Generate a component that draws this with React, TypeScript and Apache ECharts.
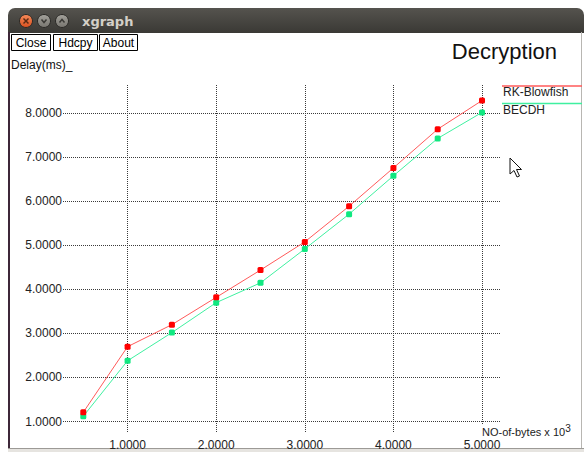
import React, { useEffect, useRef } from "react";
import * as echarts from "echarts";

const xValues = [0.5, 1, 1.5, 2, 2.5, 3, 3.5, 4, 4.5, 5];
const rkBlowfish = [1.21, 2.7, 3.2, 3.82, 4.44, 5.08, 5.89, 6.76, 7.64, 8.29];
const becdh = [1.12, 2.38, 3.02, 3.7, 4.15, 4.92, 5.71, 6.58, 7.43, 8.02];
const xTicks = [1, 2, 3, 4, 5];
const yTicks = [1, 2, 3, 4, 5, 6, 7, 8];
const seriesNames = ["RK-Blowfish", "BECDH"];
const buttonLabels = ["Close", "Hdcpy", "About"];

const FONT = '"Liberation Sans", Arial, sans-serif';
const RED_LINE = "#ff5a5a";
const RED_PT = "#ff0000";
const GREEN_LINE = "#3ff0a0";
const GREEN_PT = "#10e880";

export default function App() {
  const ref = useRef<HTMLDivElement>(null);
  useEffect(() => {
    document.body.style.margin = "0";
    const chart = echarts.init(ref.current!, null, { renderer: "svg" });
    const gridLine = { show: true, lineStyle: { color: "#3a3a3a", width: 1, type: [1, 1] as any } };
    const buttonX = [11, 53, 99];
    const buttonW = [39, 44, 38];
    const graphics: any[] = [
      // title bar
      {
        type: "rect",
        shape: { x: 8, y: 8, width: 576, height: 25, r: [7, 7, 0, 0] },
        style: {
          fill: new echarts.graphic.LinearGradient(0, 0, 0, 1, [
            { offset: 0, color: "#55534e" },
            { offset: 1, color: "#3a3935" },
          ]),
        },
      },
      // window borders
      { type: "rect", shape: { x: 8, y: 32, width: 2, height: 416 }, style: { fill: "#3d2739" } },
      { type: "rect", shape: { x: 581, y: 32, width: 1, height: 416 }, style: { fill: "#b8b6b2" } },
      { type: "rect", shape: { x: 8, y: 448, width: 576, height: 4 }, style: { fill: "#e6e4e0" } },
      { type: "rect", shape: { x: 8, y: 448, width: 576, height: 1 }, style: { fill: "#9c9a96" } },
      // window buttons
      {
        type: "circle",
        shape: { cx: 26, cy: 21, r: 6.5 },
        style: {
          fill: new echarts.graphic.LinearGradient(0, 0, 0, 1, [
            { offset: 0, color: "#f58a5a" },
            { offset: 1, color: "#d9501f" },
          ]),
          stroke: "#2a2926",
        },
      },
      {
        type: "circle",
        shape: { cx: 44, cy: 21, r: 6.5 },
        style: {
          fill: new echarts.graphic.LinearGradient(0, 0, 0, 1, [
            { offset: 0, color: "#a3a19b" },
            { offset: 1, color: "#77756f" },
          ]),
          stroke: "#2a2926",
        },
      },
      {
        type: "circle",
        shape: { cx: 62, cy: 21, r: 6.5 },
        style: {
          fill: new echarts.graphic.LinearGradient(0, 0, 0, 1, [
            { offset: 0, color: "#a3a19b" },
            { offset: 1, color: "#77756f" },
          ]),
          stroke: "#2a2926",
        },
      },
      { type: "line", shape: { x1: 23.5, y1: 18.5, x2: 28.5, y2: 23.5 }, style: { stroke: "#5a2a14", lineWidth: 1.5 } },
      { type: "line", shape: { x1: 28.5, y1: 18.5, x2: 23.5, y2: 23.5 }, style: { stroke: "#5a2a14", lineWidth: 1.5 } },
      { type: "polyline", shape: { points: [[41.5, 19.5], [44, 22.5], [46.5, 19.5]] }, style: { stroke: "#3a3935", lineWidth: 1.5, fill: null } },
      { type: "polyline", shape: { points: [[59.5, 22.5], [62, 19.5], [64.5, 22.5]] }, style: { stroke: "#3a3935", lineWidth: 1.5, fill: null } },
      {
        type: "text",
        style: {
          text: "xgraph",
          x: 82,
          y: 21,
          font: 'bold 13px "DejaVu Sans", sans-serif',
          fill: "#d4d0c8",
          textVerticalAlign: "middle",
        },
      },
      // title
      {
        type: "text",
        style: {
          text: "Decryption",
          x: 557,
          y: 51,
          font: `22px ${FONT}`,
          fill: "#111",
          textAlign: "right",
          textVerticalAlign: "middle",
        },
      },
      {
        type: "text",
        style: { text: "Delay(ms)_", x: 11, y: 65, font: `12px ${FONT}`, fill: "#111", textVerticalAlign: "middle" },
      },
      // legend
      { type: "line", z: 10, shape: { x1: 502, y1: 86, x2: 582, y2: 86 }, style: { stroke: RED_LINE, lineWidth: 1.5 } },
      {
        type: "text",
        style: { text: seriesNames[0], x: 503, y: 92, font: `12px ${FONT}`, fill: "#222", textVerticalAlign: "middle" },
      },
      { type: "line", z: 10, shape: { x1: 502, y1: 103.5, x2: 582, y2: 103.5 }, style: { stroke: GREEN_LINE, lineWidth: 1.5 } },
      {
        type: "text",
        style: { text: seriesNames[1], x: 503, y: 110, font: `12px ${FONT}`, fill: "#222", textVerticalAlign: "middle" },
      },
      // x axis name with cleared background
      { type: "rect", z: 10, shape: { x: 482, y: 424, width: 96, height: 14 }, style: { fill: "#fff" } },
      {
        type: "text",
        z: 11,
        style: {
          text: "{a|NO-of-bytes x 10}{s|3}",
          x: 482,
          y: 430.5,
          fill: "#222",
          textVerticalAlign: "middle",
          rich: {
            a: { fontSize: 11, fontFamily: FONT, color: "#222", lineHeight: 14, verticalAlign: "bottom" },
            s: { fontSize: 10, fontFamily: FONT, color: "#222", lineHeight: 14, verticalAlign: "top", padding: [0, 0, 4, 0] },
          },
        },
      },
      // mouse cursor
      {
        type: "polygon",
        z: 12,
        shape: { points: [[510, 158], [510, 174], [514, 170.5], [517, 177], [519.5, 176], [516.5, 169.5], [521.5, 169.5]] },
        style: { fill: "#fff", stroke: "#111", lineWidth: 1 },
      },
    ];
    buttonLabels.forEach((label, i) => {
      graphics.push({
        type: "rect",
        shape: { x: buttonX[i] + 0.5, y: 34.5, width: buttonW[i], height: 16 },
        style: { fill: "#fff", stroke: "#000", lineWidth: 1 },
      });
      graphics.push({
        type: "text",
        style: {
          text: label,
          x: buttonX[i] + 0.5 + buttonW[i] / 2,
          y: 43,
          font: `12px ${FONT}`,
          fill: "#000",
          textAlign: "center",
          textVerticalAlign: "middle",
        },
      });
    });

    chart.setOption({
      animation: false,
      backgroundColor: "#fff",
      grid: { left: 63, top: 85, width: 437, height: 347, containLabel: false, outerBoundsMode: "none" },
      xAxis: {
        type: "value",
        min: 0.271,
        max: 5.203,
        axisLine: { show: false },
        axisTick: { show: false, customValues: xTicks },
        axisLabel: {
          customValues: xTicks,
          formatter: (v: number) => v.toFixed(4),
          color: "#222",
          fontSize: 12,
          fontFamily: FONT,
          margin: 7,
        },
        splitLine: gridLine,
      },
      yAxis: {
        type: "value",
        min: 0.762,
        max: 8.643,
        axisLine: { show: false },
        axisTick: { show: false, customValues: yTicks },
        axisLabel: {
          customValues: yTicks,
          formatter: (v: number) => v.toFixed(4),
          color: "#222",
          fontSize: 12,
          fontFamily: FONT,
          margin: 1,
        },
        splitLine: gridLine,
      },
      series: [
        {
          name: seriesNames[0],
          type: "line",
          data: xValues.map((x, i) => [x, rkBlowfish[i]]),
          symbol: "roundRect",
          symbolSize: 6,
          lineStyle: { color: RED_LINE, width: 1 },
          itemStyle: { color: RED_PT },
          z: 3,
        },
        {
          name: seriesNames[1],
          type: "line",
          data: xValues.map((x, i) => [x, becdh[i]]),
          symbol: "roundRect",
          symbolSize: 6,
          lineStyle: { color: GREEN_LINE, width: 1 },
          itemStyle: { color: GREEN_PT },
          z: 2,
        },
      ],
      graphic: { elements: graphics },
    });
    return () => chart.dispose();
  }, []);
  return <div ref={ref} style={{ width: 584, height: 452 }} />;
}
